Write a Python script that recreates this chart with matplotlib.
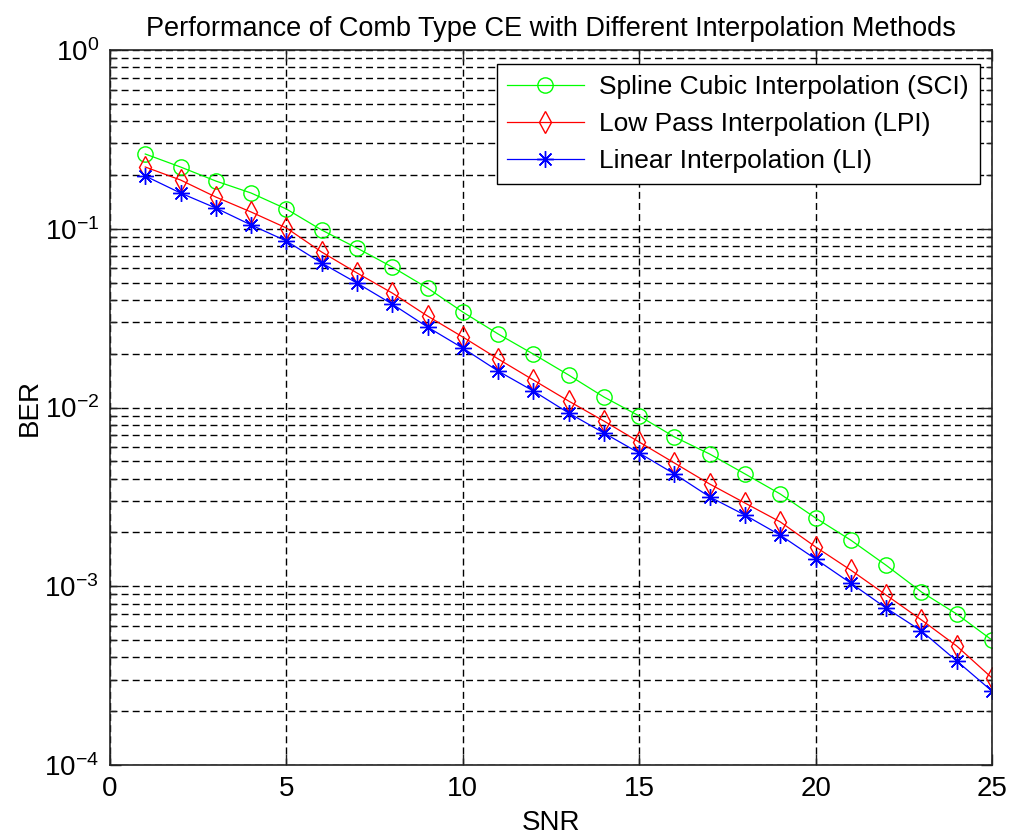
import numpy as np
import matplotlib
matplotlib.use("Agg")
import matplotlib.pyplot as plt
from matplotlib.ticker import LogLocator, NullFormatter, LogFormatterMathtext

plt.rcParams["font.family"] = ["Liberation Sans", "DejaVu Sans"]
plt.rcParams["mathtext.fontset"] = "custom"
plt.rcParams["mathtext.rm"] = "Liberation Sans"

snr = np.arange(1, 26)

ber_sci = [0.262, 0.2216, 0.185, 0.1585, 0.129, 0.0984, 0.0780, 0.0611, 0.0466, 0.0342,
           0.0258, 0.0199, 0.0152, 0.01145, 0.00897, 0.00684, 0.00549, 0.00425, 0.00328,
           0.00241, 0.00181, 0.00131, 0.000929, 0.000699, 0.000500]
ber_lpi = [0.2216, 0.1874, 0.1505, 0.1241, 0.101, 0.0741, 0.0566, 0.0437, 0.0325, 0.0248,
           0.0187, 0.01425, 0.01087, 0.0084, 0.00641, 0.00489, 0.00373, 0.00292, 0.00229,
           0.00166, 0.00123, 0.000893, 0.000648, 0.000463, 0.000307]
ber_li = [0.1973, 0.1585, 0.1306, 0.105, 0.0854, 0.0643, 0.0497, 0.0379, 0.0282, 0.0215,
          0.0160, 0.01237, 0.00932, 0.00720, 0.00556, 0.00425, 0.00316, 0.00250, 0.00193,
          0.00142, 0.00104, 0.000755, 0.000562, 0.000382, 0.000259]

labels = ["Spline Cubic Interpolation (SCI)", "Low Pass Interpolation (LPI)",
          "Linear Interpolation (LI)"]

fig = plt.figure(figsize=(10.1, 8.38), dpi=100)
ax = fig.add_axes([0.1089, 0.0871, 0.8733, 0.8532])

lw = 0.9
ax.semilogy(snr, ber_sci, color="#00ff00", lw=lw, marker="o", ms=11, mfc="none",
            mew=1.0, label=labels[0])
ax.semilogy(snr, ber_lpi, color="#ff0000", lw=lw, marker="d", ms=11, mfc="none",
            mew=1.0, label=labels[1])
ax.semilogy(snr, ber_li, color="#0000ff", lw=lw, marker=(8, 2, 0), ms=12,
            mew=1.0, label=labels[2])

ax.set_xlim(0, 25)
ax.set_ylim(1e-4, 1)
ax.set_xticks([0, 5, 10, 15, 20, 25])
ax.yaxis.set_major_locator(LogLocator(base=10, numticks=10))
ax.yaxis.set_minor_locator(LogLocator(base=10, subs=np.arange(2, 10), numticks=20))
ax.yaxis.set_minor_formatter(NullFormatter())
ax.yaxis.set_major_formatter(LogFormatterMathtext())

ax.grid(True, which="major", axis="both", color="black", ls=(0, (5, 3)), lw=1.0)
ax.grid(True, which="minor", axis="y", color="black", ls=(0, (5, 3)), lw=1.0)

ax.tick_params(which="both", direction="in", top=True, right=True, labelsize=20,
               color="#222222")
ax.tick_params(which="major", length=8, width=1, pad=8)
ax.tick_params(which="minor", length=4, width=1)
for s in ax.spines.values():
    s.set_color("#222222")
    s.set_linewidth(1.2)

ax.set_xlabel("SNR", fontsize=20, labelpad=6)
ax.set_ylabel("BER", fontsize=20, labelpad=1)
ax.set_title("Performance of Comb Type CE with Different Interpolation Methods",
             fontsize=19.5, pad=10)

leg = ax.legend(loc="upper right", bbox_to_anchor=(0.986, 0.980), borderaxespad=0,
                fontsize=19, fancybox=False, framealpha=1, edgecolor="black",
                handlelength=2.9, labelspacing=0.5, borderpad=0.4, handletextpad=0.6)
leg.get_frame().set_linewidth(1.0)

fig.savefig("out.png", dpi=100, facecolor="white")
